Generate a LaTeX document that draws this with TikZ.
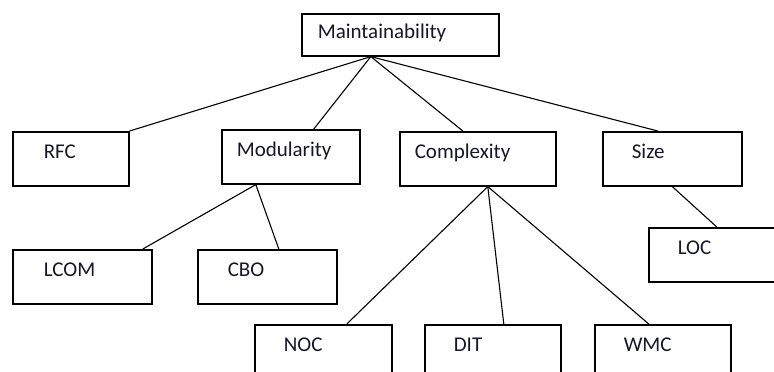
\documentclass[tikz,border=0pt]{standalone}
\usepackage{fontspec}
\setmainfont{Carlito}
\definecolor{ink}{RGB}{22,22,40}
\begin{document}
\begin{tikzpicture}[x=1pt,y=-1pt,
  box/.style={draw,line width=1.6pt,anchor=north west,align=left,inner ysep=0pt,
    text height=27pt,text depth=27pt,text=ink,font=\fontsize{21}{24}\selectfont},
  link/.style={line width=1.1pt}]
\useasboundingbox (0,0) rectangle (774,372);
\clip (0,0) rectangle (774,372);

\node[box,inner xsep=16pt,text width=165pt,text height=25pt,text depth=17pt] (main) at (301,13) {Maintainability};

\node[box,inner xsep=31pt,text width=54pt] (rfc) at (12,131) {RFC};
\node[box,inner xsep=15pt,text width=108pt] (mod) at (221,129) {Modularity};
\node[box,inner xsep=15pt,text width=126pt] (cpx) at (399,131) {Complexity};
\node[box,inner xsep=29pt,text width=81pt] (size) at (602,131) {Size};

\node[box,inner xsep=31pt,text width=77pt] (lcom) at (12,249) {LCOM};
\node[box,inner xsep=30pt,text width=79pt] (cbo) at (197,249) {CBO};
\node[box,inner xsep=29pt,text width=81pt] (loc) at (648,227) {LOC};

\node[box,inner xsep=29pt,text width=79pt] (noc) at (254,324) {NOC};
\node[box,inner xsep=29pt,text width=78pt] (dit) at (424,324) {DIT};
\node[box,inner xsep=29pt,text width=78pt] (wmc) at (594,324) {WMC};

\draw[link] ([xshift=-29.5pt]main.south) -- (rfc.north east);
\draw[link] ([xshift=-29.5pt]main.south) -- ([xshift=23pt]mod.north);
\draw[link] ([xshift=-29.5pt]main.south) -- ([xshift=-15pt]cpx.north);
\draw[link] ([xshift=-29.5pt]main.south) -- ([xshift=-14.5pt]size.north);

\draw[link] ([xshift=-35pt]mod.south) -- ([xshift=60.5pt]lcom.north);
\draw[link] ([xshift=-35pt]mod.south) -- ([xshift=11.5pt]cbo.north);

\draw[link] ([xshift=10pt]cpx.south) -- ([xshift=23.5pt]noc.north);
\draw[link] ([xshift=10pt]cpx.south) -- ([xshift=11pt]dit.north);
\draw[link] ([xshift=10pt]cpx.south) -- ([xshift=-14pt]wmc.north);

\draw[link] (size.south) -- ([xshift=-1.5pt]loc.north);
\end{tikzpicture}
\end{document}
